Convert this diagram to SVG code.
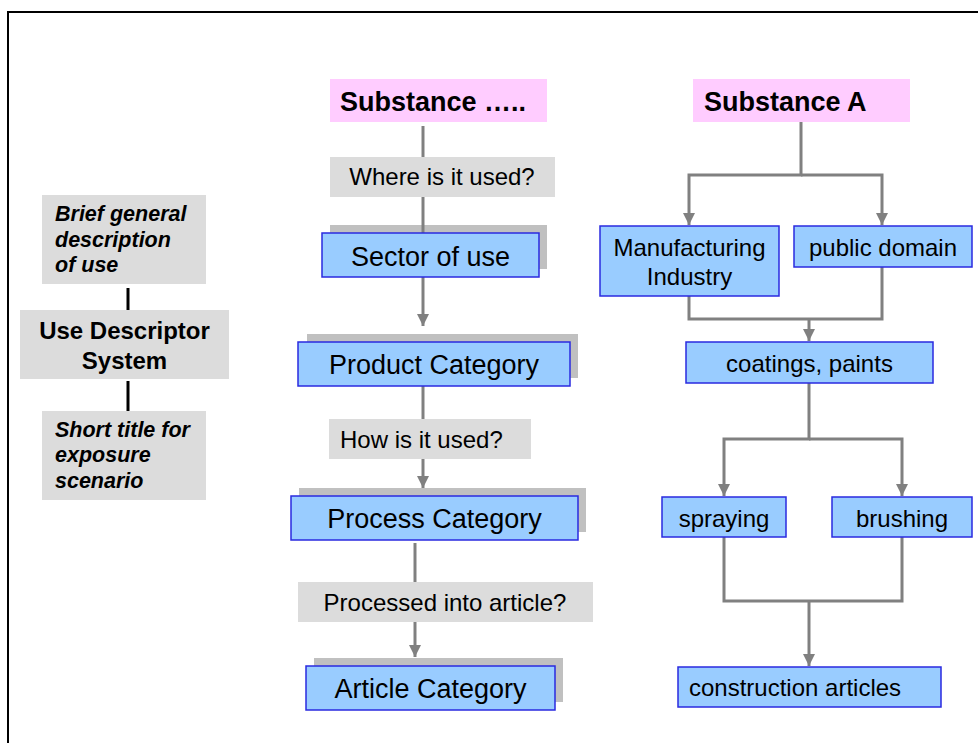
<svg xmlns="http://www.w3.org/2000/svg" width="978" height="743" viewBox="0 0 978 743">
<defs>
<marker id="arr" markerWidth="4" markerHeight="4.4" refX="4" refY="2" orient="auto" markerUnits="strokeWidth">
<path d="M0,0 L4,2 L0,4 Z" fill="#808080"/>
</marker>
<style>
text{font-family:"Liberation Sans",Arial,sans-serif;fill:#000}
.lbl{fill:#dcdcdc}
.pink{fill:#ffccff}
.blue{fill:#99ccff;stroke:#2a2ae0;stroke-width:1.5}
.shadow{fill:#c0c0c0}
.con{fill:none;stroke:#808080;stroke-width:3}
.blk{stroke:#000;stroke-width:3}
.t24{font-size:24px}
.t27{font-size:27px}
.b27{font-size:27px;font-weight:bold}
.b24{font-size:24px;font-weight:bold}
.bi{font-size:21.5px;font-weight:bold;font-style:italic}
</style>
</defs>
<rect x="0" y="0" width="978" height="743" fill="#fff"/>
<rect x="8" y="12" width="1000" height="800" fill="none" stroke="#000" stroke-width="2"/>

<g id="shadows">
<rect class="shadow" x="330" y="225" width="217" height="44"/>
<rect class="shadow" x="307" y="334" width="271" height="44"/>
<rect class="shadow" x="299" y="488" width="287" height="44"/>
<rect class="shadow" x="314" y="658" width="249" height="44"/>
</g>

<g id="connectors">
<line class="blk" x1="128" y1="288" x2="128" y2="312"/>
<line class="blk" x1="128" y1="381" x2="128" y2="411"/>
<line class="con" x1="423" y1="126" x2="423" y2="326" marker-end="url(#arr)"/>
<line class="con" x1="423" y1="386" x2="423" y2="488" marker-end="url(#arr)"/>
<line class="con" x1="415" y1="543" x2="415" y2="657" marker-end="url(#arr)"/>
<polyline class="con" points="801,122 801,175 689,175 689,225" marker-end="url(#arr)"/>
<polyline class="con" points="801,175 882,175 882,225" marker-end="url(#arr)"/>
<polyline class="con" points="689,296 689,319 882,319 882,267"/>
<line class="con" x1="809" y1="319" x2="809" y2="341" marker-end="url(#arr)"/>
<polyline class="con" points="809,383 809,439 724,439 724,496" marker-end="url(#arr)"/>
<polyline class="con" points="809,439 902,439 902,496" marker-end="url(#arr)"/>
<polyline class="con" points="724,537 724,601 902,601 902,537"/>
<line class="con" x1="809" y1="601" x2="809" y2="666" marker-end="url(#arr)"/>
</g>

<g id="brief">
<rect class="lbl" x="42" y="195" width="164" height="89"/>
<text class="bi" x="55" y="221">Brief general</text>
<text class="bi" x="55" y="247">description</text>
<text class="bi" x="55" y="272">of use</text>
</g>
<g id="uds">
<rect class="lbl" x="20" y="310" width="209" height="69"/>
<text class="b24" x="124.5" y="339" text-anchor="middle">Use Descriptor</text>
<text class="b24" x="124.5" y="369" text-anchor="middle">System</text>
</g>
<g id="short">
<rect class="lbl" x="42" y="411" width="164" height="89"/>
<text class="bi" x="55" y="437">Short title for</text>
<text class="bi" x="55" y="462">exposure</text>
<text class="bi" x="55" y="488">scenario</text>
</g>

<g id="substance">
<rect class="pink" x="330" y="79" width="217" height="43"/>
<text class="b27" x="340" y="111">Substance …..</text>
</g>
<g id="where">
<rect class="lbl" x="330" y="157" width="225" height="40"/>
<text class="t24" x="442" y="185" text-anchor="middle">Where is it used?</text>
</g>
<g id="sector">
<rect class="blue" x="322" y="233" width="217" height="44"/>
<text class="t27" x="430.5" y="266" text-anchor="middle">Sector of use</text>
</g>
<g id="product">
<rect class="blue" x="298" y="342" width="272" height="44"/>
<text class="t27" x="434" y="374" text-anchor="middle">Product Category</text>
</g>
<g id="how">
<rect class="lbl" x="329" y="419" width="202" height="40"/>
<text class="t24" x="340" y="448">How is it used?</text>
</g>
<g id="process">
<rect class="blue" x="291" y="496" width="287" height="44"/>
<text class="t27" x="434.5" y="528" text-anchor="middle">Process Category</text>
</g>
<g id="processed">
<rect class="lbl" x="298" y="582" width="295" height="40"/>
<text class="t24" x="445" y="611" text-anchor="middle">Processed into article?</text>
</g>
<g id="article">
<rect class="blue" x="306" y="666" width="249" height="44"/>
<text class="t27" x="430.5" y="698" text-anchor="middle">Article Category</text>
</g>

<g id="substanceA">
<rect class="pink" x="693" y="79" width="217" height="43"/>
<text class="b27" x="704" y="111">Substance A</text>
</g>
<g id="manufacturing">
<rect class="blue" x="600" y="226" width="179" height="70"/>
<text class="t24" x="689.5" y="256" text-anchor="middle">Manufacturing</text>
<text class="t24" x="689.5" y="285" text-anchor="middle">Industry</text>
</g>
<g id="public">
<rect class="blue" x="794" y="226" width="178" height="41"/>
<text class="t24" x="883" y="256" text-anchor="middle">public domain</text>
</g>
<g id="coatings">
<rect class="blue" x="686" y="342" width="247" height="41"/>
<text class="t24" x="809.5" y="372" text-anchor="middle">coatings, paints</text>
</g>
<g id="spraying">
<rect class="blue" x="662" y="497" width="124" height="40"/>
<text class="t24" x="724" y="527" text-anchor="middle">spraying</text>
</g>
<g id="brushing">
<rect class="blue" x="832" y="497" width="140" height="40"/>
<text class="t24" x="902" y="527" text-anchor="middle">brushing</text>
</g>
<g id="construction">
<rect class="blue" x="678" y="667" width="263" height="40"/>
<text class="t24" x="689" y="696">construction articles</text>
</g>
</svg>
